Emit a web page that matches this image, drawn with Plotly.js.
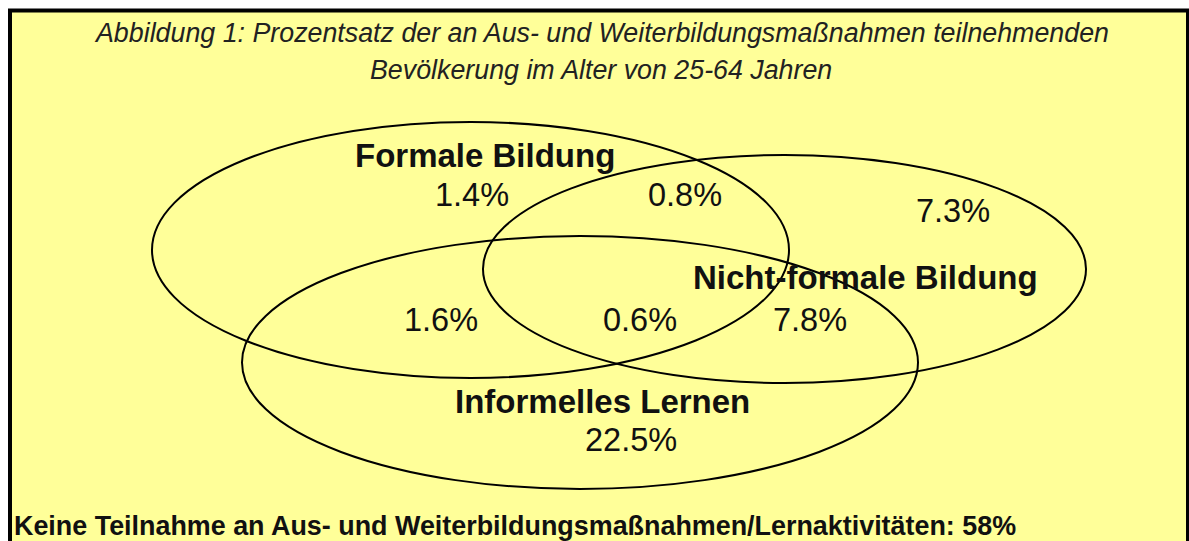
<!DOCTYPE html>
<html>
<head>
<meta charset="utf-8">
<script src="https://cdn.plot.ly/plotly-3.0.1.min.js"></script>
<style>html,body{margin:0;padding:0;background:#fff;}#chart{width:1189px;height:541px;}</style>
</head>
<body>
<div id="chart"></div>
<script>
// ---- data ----
const titleLines = ["Abbildung 1: Prozentsatz der an Aus- und Weiterbildungsmaßnahmen teilnehmenden",
                    "Bevölkerung im Alter von 25-64 Jahren"];
const setNames = ["Formale Bildung", "Nicht-formale Bildung", "Informelles Lernen"];
const regionValues = [1.4, 0.8, 7.3, 1.6, 0.6, 7.8, 22.5];   // percent
const noParticipationText = "Keine Teilnahme an Aus- und Weiterbildungsmaßnahmen/Lernaktivitäten";
const noParticipationValue = 58;

// ---- layout geometry (pixel space) ----
const ellipses = [
  {x0: 152, x1: 789, y0: 122, y1: 378},   // Formale
  {x0: 483, x1: 1086, y0: 155, y1: 383},  // Nicht-formal
  {x0: 242, x1: 918, y0: 236, y1: 489}    // Informell
];
const setNamePos = [[485, 155], [865, 277], [602, 401]];
const regionPos = [[472, 195], [685, 195], [953, 211], [441, 320], [640, 320], [810, 320], [631, 440]];
const titlePos = [[601, 33], [601, 70]];

const ink = "#111111";
const fam = "Liberation Sans, Arial, sans-serif";

const shapes = [{
  type: "rect", xref: "x", yref: "y", x0: 10, x1: 1188, y0: 10.5, y1: 580,
  fillcolor: "#FFFF99", line: {color: "#000", width: 4}, layer: "below"
}];
ellipses.forEach(e => shapes.push({
  type: "circle", xref: "x", yref: "y", x0: e.x0, x1: e.x1, y0: e.y0, y1: e.y1,
  fillcolor: "rgba(0,0,0,0)", line: {color: "#000", width: 2}
}));

const annotations = [];
titleLines.forEach((t, i) => annotations.push({
  x: titlePos[i][0], y: titlePos[i][1], xref: "x", yref: "y", text: t, showarrow: false,
  xanchor: "center", yanchor: "middle",
  font: {family: fam, size: 26.8, color: "#222", style: "italic"}
}));
setNames.forEach((t, i) => annotations.push({
  x: setNamePos[i][0], y: setNamePos[i][1], xref: "x", yref: "y", text: t, showarrow: false,
  xanchor: "center", yanchor: "middle",
  font: {family: fam, size: 33, color: ink, weight: "bold"}
}));
regionValues.forEach((v, i) => annotations.push({
  x: regionPos[i][0], y: regionPos[i][1], xref: "x", yref: "y", text: v.toFixed(1) + "%", showarrow: false,
  xanchor: "center", yanchor: "middle",
  font: {family: fam, size: 32.5, color: ink}
}));
annotations.push({
  x: 12, y: 526, xref: "x", yref: "y", text: noParticipationText + ": " + noParticipationValue + "%",
  showarrow: false, xanchor: "left", yanchor: "middle",
  font: {family: fam, size: 26.9, color: ink, weight: "bold"}
});

const layout = {
  width: 1189, height: 541,
  margin: {l: 0, r: 0, t: 0, b: 0},
  paper_bgcolor: "#ffffff", plot_bgcolor: "rgba(0,0,0,0)",
  showlegend: false,
  xaxis: {range: [0, 1189], visible: false, fixedrange: true},
  yaxis: {range: [541, 0], visible: false, fixedrange: true},
  shapes: shapes,
  annotations: annotations
};

Plotly.newPlot("chart", [{x: [], y: [], type: "scatter", mode: "markers", hoverinfo: "skip"}], layout,
  {staticPlot: true, displayModeBar: false});
</script>
</body>
</html>
